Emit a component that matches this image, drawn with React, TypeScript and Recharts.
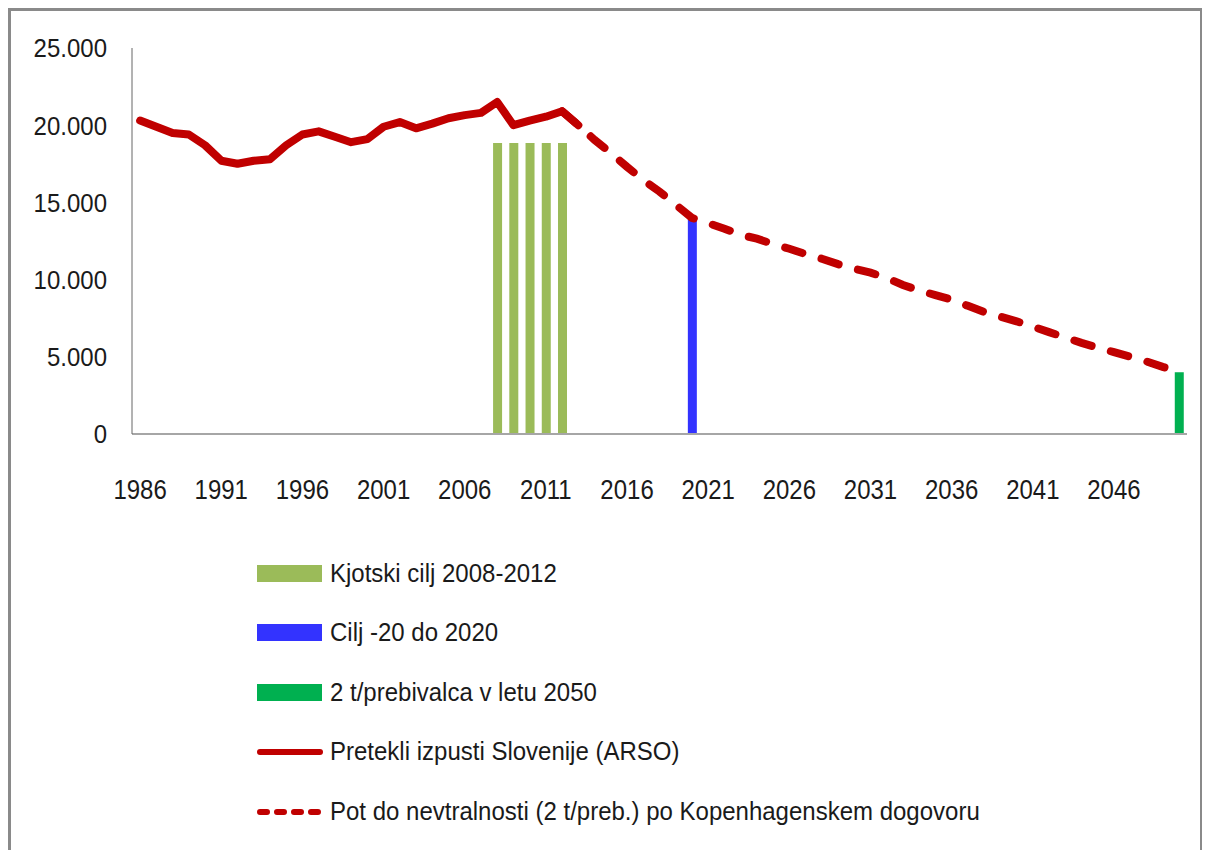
import { ComposedChart, Line, Bar, XAxis, YAxis } from 'recharts'

const years = [
  1986, 1987, 1988, 1989, 1990, 1991, 1992, 1993, 1994, 1995, 1996, 1997, 1998,
  1999, 2000, 2001, 2002, 2003, 2004, 2005, 2006, 2007, 2008, 2009, 2010, 2011,
  2012, 2013, 2014, 2015, 2016, 2017, 2018, 2019, 2020, 2021, 2022, 2023, 2024,
  2025, 2026, 2027, 2028, 2029, 2030, 2031, 2032, 2033, 2034, 2035, 2036, 2037,
  2038, 2039, 2040, 2041, 2042, 2043, 2044, 2045, 2046, 2047, 2048, 2049, 2050,
]

// past emissions 1986-2013
const actual = [
  20300, 19900, 19500, 19400, 18700, 17700, 17500, 17700, 17800, 18700, 19400,
  19600, 19250, 18900, 19100, 19900, 20200, 19800, 20100, 20450, 20650, 20800,
  21500, 20000, 20300, 20550, 20900, 20000,
]

// path to neutrality 2012-2050
const pathStart = 2012
const path = [
  20900, 20000, 19050, 18200, 17300, 16450, 15700, 14850, 14000, 13650, 13300,
  12900, 12650, 12300, 12000, 11650, 11350, 11000, 10700, 10450, 10100, 9650,
  9300, 9000, 8700, 8300, 7900, 7600, 7300, 6950, 6600, 6250, 5900, 5600, 5300,
  5000, 4700, 4350, 4050,
]

const kyotoYears = [2008, 2009, 2010, 2011, 2012]
const kyotoValues = [18850, 18850, 18850, 18850, 18850]
const target2020 = { year: 2020, value: 14000 }
const target2050 = { year: 2050, value: 4000 }

const yTicks = [0, 5000, 10000, 15000, 20000, 25000]

const legendItems = [
  { label: 'Kjotski cilj 2008-2012', kind: 'box', color: '#9BBB59' },
  { label: 'Cilj -20 do 2020', kind: 'box', color: '#3333FF' },
  { label: '2 t/prebivalca v letu 2050', kind: 'box', color: '#00B050' },
  { label: 'Pretekli izpusti Slovenije (ARSO)', kind: 'line', color: '#C00000' },
  { label: 'Pot do nevtralnosti (2 t/preb.) po Kopenhagenskem dogovoru', kind: 'dash', color: '#C00000' },
]

const data = years.map((year, i) => {
  const k = kyotoYears.indexOf(year)
  return {
    year,
    actual: i < actual.length ? actual[i] : null,
    path: year >= pathStart ? path[year - pathStart] : null,
    kyoto: k >= 0 ? kyotoValues[k] : null,
    t2020: year === target2020.year ? target2020.value : null,
    t2050: year === target2050.year ? target2050.value : null,
  }
})

const font = '"Liberation Sans", Arial, sans-serif'

const fmt = (v: number) => (v === 0 ? '0' : v.toLocaleString('de-DE'))

// tick text a bit taller than the font, like the original
function XTick(props: any) {
  const { x, y, payload } = props
  return (
    <text
      transform={`translate(${x},${y}) scale(1,1.12)`}
      textAnchor="middle"
      dy="0.71em"
      fill="#1a1a1a"
      fontSize={24}
      fontFamily={font}
    >
      {payload.value}
    </text>
  )
}

function YTick(props: any) {
  const { x, y, payload } = props
  return (
    <text
      transform={`translate(${x},${y}) scale(1,1.1)`}
      textAnchor="end"
      dy="0.355em"
      fill="#1a1a1a"
      fontSize={24}
      fontFamily={font}
    >
      {fmt(payload.value)}
    </text>
  )
}

function LegendMark({ kind, color }: { kind: string; color: string }) {
  return (
    <svg width={66} height={20} style={{ display: 'block' }}>
      {kind === 'box' && <rect x={0} y={1} width={65} height={17} fill={color} />}
      {kind === 'line' && (
        <line x1={3} y1={10} x2={63} y2={10} stroke={color} strokeWidth={6} strokeLinecap="round" />
      )}
      {kind === 'dash' && (
        <line
          x1={3}
          y1={10}
          x2={65}
          y2={10}
          stroke={color}
          strokeWidth={6}
          strokeLinecap="round"
          strokeDasharray="7 10"
        />
      )}
    </svg>
  )
}

export default function App() {
  return (
    <div
      style={{
        position: 'relative',
        width: 1195,
        height: 842,
        boxSizing: 'border-box',
        borderTop: '3px solid #8a8a8a',
        borderLeft: '3px solid #8a8a8a',
        borderRight: '3px solid #8a8a8a',
        background: '#fff',
        fontFamily: font,
      }}
    >
      <ComposedChart
        width={1189}
        height={513}
        data={data}
        margin={{ top: 37, right: 13, bottom: 0, left: 61 }}
      >
        <XAxis
          dataKey="year"
          interval={4}
          tickLine={false}
          tickSize={0}
          tickMargin={46}
          height={90}
          stroke="#a6a6a6"
          strokeWidth={2}
          tick={<XTick />}
        />
        <YAxis
          domain={[0, 25000]}
          ticks={yTicks}
          tickLine={false}
          tickSize={0}
          tickMargin={25}
          width={60}
          stroke="#666"
          tick={<YTick />}
        />
        <Bar dataKey="kyoto" stackId="a" barSize={9} fill="#9BBB59" isAnimationActive={false} />
        <Bar dataKey="t2020" stackId="a" barSize={9} fill="#3333FF" isAnimationActive={false} />
        <Bar dataKey="t2050" stackId="a" barSize={9} fill="#00B050" isAnimationActive={false} />
        <Line
          dataKey="path"
          stroke="#C00000"
          strokeWidth={8}
          strokeDasharray="18 20"
          strokeLinecap="round"
          dot={false}
          activeDot={false}
          isAnimationActive={false}
        />
        <Line
          dataKey="actual"
          stroke="#C00000"
          strokeWidth={8}
          strokeLinecap="round"
          strokeLinejoin="round"
          dot={false}
          activeDot={false}
          isAnimationActive={false}
        />
      </ComposedChart>
      <div style={{ position: 'absolute', left: 246, top: 533 }}>
        {legendItems.map((item) => (
          <div
            key={item.label}
            style={{ display: 'flex', alignItems: 'center', height: 59.5, color: '#1a1a1a', fontSize: 24 }}
          >
            <LegendMark kind={item.kind} color={item.color} />
            <span style={{ marginLeft: 7, whiteSpace: 'nowrap', display: 'inline-block', transform: 'scaleY(1.05)' }}>
              {item.label}
            </span>
          </div>
        ))}
      </div>
    </div>
  )
}
